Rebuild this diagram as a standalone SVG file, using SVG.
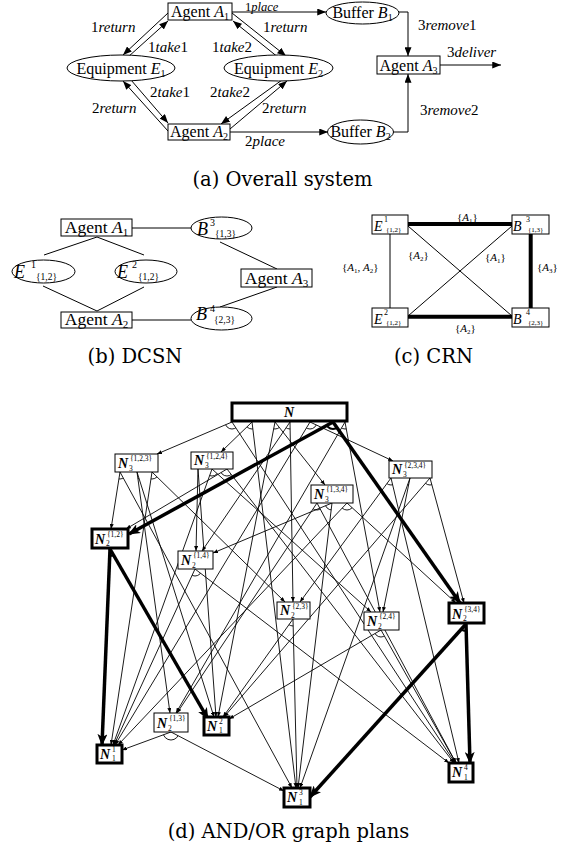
<svg xmlns="http://www.w3.org/2000/svg" width="570" height="848" viewBox="0 0 570 848">
<style>
  .t{font-family:"Liberation Serif","Times New Roman",serif;fill:#000}
  .i{font-style:italic}
  .cap{font-family:"DejaVu Serif","Liberation Serif",serif;font-size:19.5px;fill:#000}
  .ln{stroke:#000;stroke-width:1;fill:none}
  .la{stroke:#000;stroke-width:1;fill:none;marker-end:url(#ah)}
  .tl{stroke:#000;stroke-width:0.9;fill:none;marker-end:url(#as)}
  .th{stroke:#000;stroke-width:3.5;fill:none;marker-end:url(#at)}
  .bx{fill:#fff;stroke:#000;stroke-width:1}
  .bk{fill:#fff;stroke:#000;stroke-width:3}
  .arc{fill:none;stroke:#000;stroke-width:0.9}
  .arck{fill:none;stroke:#000;stroke-width:2}
  .nn{font-family:"Liberation Serif",serif;font-style:italic;font-weight:bold;font-size:14px}
  .ns{font-family:"Liberation Serif",serif;font-size:7.5px}
</style>
<defs>
  <marker id="ah" viewBox="0 0 10 8" refX="10" refY="4" markerWidth="9" markerHeight="7" markerUnits="userSpaceOnUse" orient="auto"><path d="M0,0L10,4L0,8z"/></marker>
  <marker id="as" viewBox="0 0 10 8" refX="10" refY="4" markerWidth="5" markerHeight="4" markerUnits="userSpaceOnUse" orient="auto"><path d="M0,0L10,4L0,8z"/></marker>
  <marker id="at" viewBox="0 0 12 10" refX="11" refY="5" markerWidth="12" markerHeight="10" markerUnits="userSpaceOnUse" orient="auto"><path d="M0,0L12,5L0,10L3,5z"/></marker>
  <!-- wedges used to clip the AND arcs -->
  <clipPath id="k1"><polygon points="232,422 157,454 455,763"/></clipPath>
  <clipPath id="k2"><polygon points="252,422 221,452 296,788"/></clipPath>
  <clipPath id="k3"><polygon points="275,422 325,485 218,717"/></clipPath>
  <clipPath id="k4"><polygon points="290,422 202,551 293,602"/></clipPath>
  <clipPath id="k5"><polygon points="310,422 393,461 115,745"/></clipPath>
  <clipPath id="k6"><polygon points="333,422 129,534 460,603"/></clipPath>
  <clipPath id="k7"><polygon points="345,422 176,713 380,612"/></clipPath>
  <clipPath id="k8"><polygon points="120,472 111,529 292,788"/></clipPath>
  <clipPath id="k9"><polygon points="137,472 170,713 214,717"/></clipPath>
  <clipPath id="k10"><polygon points="152,472 285,602 111,745"/></clipPath>
  <clipPath id="k11"><polygon points="198,469 196,551 216,717"/></clipPath>
  <clipPath id="k12"><polygon points="212,469 371,612 113,745"/></clipPath>
  <clipPath id="k13"><polygon points="227,469 126,529 454,763"/></clipPath>
  <clipPath id="k14"><polygon points="317,503 177,713 456,763"/></clipPath>
  <clipPath id="k15"><polygon points="332,503 213,553 298,788"/></clipPath>
  <clipPath id="k16"><polygon points="347,503 456,603 118,745"/></clipPath>
  <clipPath id="k17"><polygon points="391,478 300,602 459,763"/></clipPath>
  <clipPath id="k18"><polygon points="410,478 383,612 300,788"/></clipPath>
  <clipPath id="k19"><polygon points="430,478 464,603 224,717"/></clipPath>
  <clipPath id="k20"><polygon points="110,549 102,745 208,719"/></clipPath>
  <clipPath id="k21"><polygon points="171,732 122,750 284,791"/></clipPath>
  <clipPath id="k22"><polygon points="195,569 114,745 449,763"/></clipPath>
  <clipPath id="k23"><polygon points="293,619 223,717 297,788"/></clipPath>
  <clipPath id="k24"><polygon points="381,630 229,719 456,763"/></clipPath>
  <clipPath id="k25"><polygon points="466,624 470,763 310,797"/></clipPath>
</defs>
<rect width="570" height="848" fill="#fff"/>

<!-- ===== (a) overall system ===== -->
<g id="a-connectors">
  <path class="la" d="M232,12H326"/>
  <path class="la" d="M399,12H408V56"/>
  <path class="la" d="M440,65H501"/>
  <path class="la" d="M230,132H328"/>
  <path class="la" d="M393,132H408V74"/>
  <path class="la" d="M168,13L123,55"/>
  <path class="la" d="M128,57L168,21"/>
  <path class="la" d="M232,13L286,56"/>
  <path class="la" d="M279,58L233,21"/>
  <path class="la" d="M168,131L123,81"/>
  <path class="la" d="M131,80L168,123"/>
  <path class="la" d="M282,80L221,124"/>
  <path class="la" d="M230,129L287,81"/>
</g>
<g id="a-labels" class="t" font-size="15">
  <text x="245" y="11.3" font-size="12.5">1<tspan class="i">place</tspan></text>
  <text x="418" y="30">3<tspan class="i">remove</tspan>1</text>
  <text x="447" y="57">3<tspan class="i">deliver</tspan></text>
  <text x="245" y="146">2<tspan class="i">place</tspan></text>
  <text x="420" y="115">3<tspan class="i">remove</tspan>2</text>
  <text x="91" y="32">1<tspan class="i">return</tspan></text>
  <text x="148" y="52">1<tspan class="i">take</tspan>1</text>
  <text x="212" y="52">1<tspan class="i">take</tspan>2</text>
  <text x="263" y="32">1<tspan class="i">return</tspan></text>
  <text x="150" y="97">2<tspan class="i">take</tspan>1</text>
  <text x="210" y="97">2<tspan class="i">take</tspan>2</text>
  <text x="92" y="113">2<tspan class="i">return</tspan></text>
  <text x="262" y="113">2<tspan class="i">return</tspan></text>
</g>
<g id="a-agent1"><rect class="bx" x="168" y="3" width="64" height="17"/><text class="t" x="200" y="16.5" font-size="16" text-anchor="middle">Agent <tspan class="i">A</tspan><tspan font-size="10" dy="3">1</tspan></text></g>
<g id="a-agent2"><rect class="bx" x="168" y="124" width="62" height="16"/><text class="t" x="199" y="137" font-size="16" text-anchor="middle">Agent <tspan class="i">A</tspan><tspan font-size="10" dy="3">2</tspan></text></g>
<g id="a-agent3"><rect class="bx" x="377" y="56" width="63" height="18"/><text class="t" x="408.5" y="70.5" font-size="16" text-anchor="middle">Agent <tspan class="i">A</tspan><tspan font-size="10" dy="3">3</tspan></text></g>
<g id="a-equip1"><ellipse class="bx" cx="121" cy="68" rx="54" ry="13"/><text class="t" x="121" y="73.5" font-size="16" text-anchor="middle">Equipment <tspan class="i">E</tspan><tspan font-size="10" dy="3">1</tspan></text></g>
<g id="a-equip2"><ellipse class="bx" cx="278.5" cy="68" rx="54.5" ry="13"/><text class="t" x="278.5" y="73.5" font-size="16" text-anchor="middle">Equipment <tspan class="i">E</tspan><tspan font-size="10" dy="3">2</tspan></text></g>
<g id="a-buffer1"><ellipse class="bx" cx="362.5" cy="13" rx="36.5" ry="11"/><text class="t" x="362.5" y="17.5" font-size="16" text-anchor="middle">Buffer <tspan class="i">B</tspan><tspan font-size="10" dy="3">1</tspan></text></g>
<g id="a-buffer2"><ellipse class="bx" cx="360.5" cy="132" rx="33" ry="12"/><text class="t" x="360.5" y="137" font-size="16" text-anchor="middle">Buffer <tspan class="i">B</tspan><tspan font-size="10" dy="3">2</tspan></text></g>
<text class="cap" x="282.5" y="186" text-anchor="middle">(a) Overall system</text>

<!-- ===== (b) DCSN ===== -->
<g id="b-connectors">
  <path class="ln" d="M132,228H191"/>
  <path class="ln" d="M97,237L44,255"/>
  <path class="ln" d="M97,237L144,255"/>
  <path class="ln" d="M43,286L97,311"/>
  <path class="ln" d="M144,287L97,311"/>
  <path class="ln" d="M132,320H191"/>
  <path class="ln" d="M220,242L277,269"/>
  <path class="ln" d="M277,287L220,307"/>
</g>
<g id="b-agent1"><rect class="bx" x="61" y="219" width="71" height="17"/><text class="t" x="96.5" y="233" font-size="17.5" text-anchor="middle">Agent <tspan class="i">A</tspan><tspan font-size="11" dy="3">1</tspan></text></g>
<g id="b-agent2"><rect class="bx" x="61" y="312" width="71" height="16"/><text class="t" x="96.5" y="325" font-size="17.5" text-anchor="middle">Agent <tspan class="i">A</tspan><tspan font-size="11" dy="3">2</tspan></text></g>
<g id="b-agent3"><rect class="bx" x="241" y="269" width="71" height="18"/><text class="t" x="276.5" y="283.5" font-size="17.5" text-anchor="middle">Agent <tspan class="i">A</tspan><tspan font-size="11" dy="3">3</tspan></text></g>
<g id="b-e1"><ellipse class="bx" cx="43.5" cy="271.5" rx="31.5" ry="11.5"/><text class="t i" x="14" y="278" font-size="18">E</text><text class="t" x="31" y="268" font-size="10">1</text><text class="t" x="36" y="280" font-size="9.5">{1,2}</text></g>
<g id="b-e2"><ellipse class="bx" cx="146" cy="271.5" rx="31" ry="11.5"/><text class="t i" x="117" y="278" font-size="18">E</text><text class="t" x="132" y="268" font-size="10">2</text><text class="t" x="138" y="280" font-size="9.5">{1,2}</text></g>
<g id="b-b3"><ellipse class="bx" cx="221.5" cy="228" rx="30.5" ry="11"/><text class="t i" x="197" y="235" font-size="18">B</text><text class="t" x="210" y="226" font-size="10">3</text><text class="t" x="215" y="237" font-size="9.5">{1,3}</text></g>
<g id="b-b4"><ellipse class="bx" cx="221.5" cy="318.5" rx="30.5" ry="11.5"/><text class="t i" x="196" y="320" font-size="18">B</text><text class="t" x="210" y="312" font-size="10">4</text><text class="t" x="214" y="323" font-size="9.5">{2,3}</text></g>
<text class="cap" x="135" y="363" text-anchor="middle">(b) DCSN</text>

<!-- ===== (c) CRN ===== -->
<g id="c-connectors">
  <path class="ln" d="M390,234V308"/>
  <path class="ln" d="M408,226L512,316"/>
  <path class="ln" d="M408,316L512,226"/>
  <path d="M408,224H513" stroke="#000" stroke-width="4"/>
  <path d="M530.7,234V309" stroke="#000" stroke-width="4"/>
  <path d="M408,316.7H513" stroke="#000" stroke-width="4"/>
</g>
<g id="c-labels" class="t" font-size="11">
  <text x="457" y="221">{<tspan class="i">A</tspan><tspan font-size="7" dy="2">1</tspan><tspan dy="-2">}</tspan></text>
  <text x="408" y="259">{<tspan class="i">A</tspan><tspan font-size="7" dy="2">2</tspan><tspan dy="-2">}</tspan></text>
  <text x="485" y="261">{<tspan class="i">A</tspan><tspan font-size="7" dy="2">1</tspan><tspan dy="-2">}</tspan></text>
  <text x="342" y="271">{<tspan class="i">A</tspan><tspan font-size="7" dy="2">1</tspan><tspan dy="-2">, </tspan><tspan class="i">A</tspan><tspan font-size="7" dy="2">2</tspan><tspan dy="-2">}</tspan></text>
  <text x="537" y="271">{<tspan class="i">A</tspan><tspan font-size="7" dy="2">3</tspan><tspan dy="-2">}</tspan></text>
  <text x="455" y="332">{<tspan class="i">A</tspan><tspan font-size="7" dy="2">2</tspan><tspan dy="-2">}</tspan></text>
</g>
<g id="c-e1"><rect class="bx" x="372" y="215" width="36" height="19"/><text class="t i" x="374" y="231" font-size="14">E</text><text class="t" x="384" y="222" font-size="8">1</text><text class="t" x="386" y="232" font-size="7">{1,2}</text></g>
<g id="c-b3"><rect class="bx" x="512" y="215" width="37" height="19"/><text class="t i" x="513" y="231" font-size="14">B</text><text class="t" x="526" y="222" font-size="8">3</text><text class="t" x="528" y="232" font-size="7">{1,3}</text></g>
<g id="c-e2"><rect class="bx" x="372" y="308" width="36" height="19"/><text class="t i" x="374" y="324" font-size="14">E</text><text class="t" x="384" y="315" font-size="8">2</text><text class="t" x="386" y="325" font-size="7">{1,2}</text></g>
<g id="c-b4"><rect class="bx" x="512" y="308" width="37" height="19"/><text class="t i" x="513" y="324" font-size="14">B</text><text class="t" x="526" y="315" font-size="8">4</text><text class="t" x="528" y="325" font-size="7">{2,3}</text></g>
<text class="cap" x="433.5" y="363" text-anchor="middle">(c) CRN</text>

<!-- ===== (d) AND/OR graph ===== -->
<g id="d-connectors">
  <path class="tl" d="M232,422L157,454"/>
  <path class="tl" d="M232,422L455,763"/>
  <path class="tl" d="M252,422L221,452"/>
  <path class="tl" d="M252,422L296,788"/>
  <path class="tl" d="M275,422L325,485"/>
  <path class="tl" d="M275,422L218,717"/>
  <path class="tl" d="M290,422L202,551"/>
  <path class="tl" d="M290,422L293,602"/>
  <path class="tl" d="M310,422L393,461"/>
  <path class="tl" d="M310,422L115,745"/>
  <path class="tl" d="M345,422L176,713"/>
  <path class="tl" d="M345,422L380,612"/>
  <path class="tl" d="M120,472L111,529"/>
  <path class="tl" d="M120,472L292,788"/>
  <path class="tl" d="M137,472L170,713"/>
  <path class="tl" d="M137,472L214,717"/>
  <path class="tl" d="M152,472L285,602"/>
  <path class="tl" d="M152,472L111,745"/>
  <path class="tl" d="M198,469L196,551"/>
  <path class="tl" d="M198,469L216,717"/>
  <path class="tl" d="M212,469L371,612"/>
  <path class="tl" d="M212,469L113,745"/>
  <path class="tl" d="M227,469L126,529"/>
  <path class="tl" d="M227,469L454,763"/>
  <path class="tl" d="M317,503L177,713"/>
  <path class="tl" d="M317,503L456,763"/>
  <path class="tl" d="M332,503L213,553"/>
  <path class="tl" d="M332,503L298,788"/>
  <path class="tl" d="M347,503L456,603"/>
  <path class="tl" d="M347,503L118,745"/>
  <path class="tl" d="M391,478L300,602"/>
  <path class="tl" d="M391,478L459,763"/>
  <path class="tl" d="M410,478L383,612"/>
  <path class="tl" d="M410,478L300,788"/>
  <path class="tl" d="M430,478L464,603"/>
  <path class="tl" d="M430,478L224,717"/>
  <path class="tl" d="M171,732L122,750"/>
  <path class="tl" d="M171,732L284,791"/>
  <path class="tl" d="M195,569L114,745"/>
  <path class="tl" d="M195,569L449,763"/>
  <path class="tl" d="M293,619L223,717"/>
  <path class="tl" d="M293,619L297,788"/>
  <path class="tl" d="M381,630L229,719"/>
  <path class="tl" d="M381,630L456,763"/>
  <!-- AND arcs -->
  <circle class="arc" cx="232" cy="422" r="7" clip-path="url(#k1)"/>
  <circle class="arc" cx="252" cy="422" r="7" clip-path="url(#k2)"/>
  <circle class="arc" cx="275" cy="422" r="7" clip-path="url(#k3)"/>
  <circle class="arc" cx="290" cy="422" r="7" clip-path="url(#k4)"/>
  <circle class="arc" cx="310" cy="422" r="7" clip-path="url(#k5)"/>
  <circle class="arck" cx="333" cy="422" r="7" clip-path="url(#k6)"/>
  <circle class="arc" cx="345" cy="422" r="7" clip-path="url(#k7)"/>
  <circle class="arc" cx="120" cy="472" r="7" clip-path="url(#k8)"/>
  <circle class="arc" cx="137" cy="472" r="7" clip-path="url(#k9)"/>
  <circle class="arc" cx="152" cy="472" r="7" clip-path="url(#k10)"/>
  <circle class="arc" cx="198" cy="469" r="7" clip-path="url(#k11)"/>
  <circle class="arc" cx="212" cy="469" r="7" clip-path="url(#k12)"/>
  <circle class="arc" cx="227" cy="469" r="7" clip-path="url(#k13)"/>
  <circle class="arc" cx="317" cy="503" r="7" clip-path="url(#k14)"/>
  <circle class="arc" cx="332" cy="503" r="7" clip-path="url(#k15)"/>
  <circle class="arc" cx="347" cy="503" r="7" clip-path="url(#k16)"/>
  <circle class="arc" cx="391" cy="478" r="7" clip-path="url(#k17)"/>
  <circle class="arc" cx="410" cy="478" r="7" clip-path="url(#k18)"/>
  <circle class="arc" cx="430" cy="478" r="7" clip-path="url(#k19)"/>
  <circle class="arck" cx="110" cy="549" r="7" clip-path="url(#k20)"/>
  <circle class="arc" cx="171" cy="732" r="8" clip-path="url(#k21)"/>
  <circle class="arc" cx="195" cy="569" r="7" clip-path="url(#k22)"/>
  <circle class="arc" cx="293" cy="619" r="7" clip-path="url(#k23)"/>
  <circle class="arc" cx="381" cy="630" r="7" clip-path="url(#k24)"/>
  <circle class="arck" cx="466" cy="624" r="7" clip-path="url(#k25)"/>
  <!-- selected plan -->
  <path class="th" d="M333,422L129,534"/>
  <path class="th" d="M333,422L460,603"/>
  <path class="th" d="M110,549L102,745"/>
  <path class="th" d="M110,549L208,719"/>
  <path class="th" d="M466,624L470,763"/>
  <path class="th" d="M466,624L310,797"/>
</g>

<g id="d-n"><rect class="bk" x="232" y="403" width="115" height="18"/><text class="nn" x="289" y="417" font-size="13" text-anchor="middle">N</text></g>
<g id="d-n3-123"><rect class="bx" x="115" y="454" width="43" height="18"/><text class="nn" x="118" y="468">N</text><text class="ns" x="130" y="461">{1,2,3}</text><text class="ns" x="129" y="471">3</text></g>
<g id="d-n3-124"><rect class="bx" x="191" y="452" width="42" height="17"/><text class="nn" x="194" y="465">N</text><text class="ns" x="206" y="459">{1,2,4}</text><text class="ns" x="205" y="468">3</text></g>
<g id="d-n3-134"><rect class="bx" x="311" y="485" width="42" height="18"/><text class="nn" x="314" y="499">N</text><text class="ns" x="326" y="492">{1,3,4}</text><text class="ns" x="325" y="502">3</text></g>
<g id="d-n3-234"><rect class="bx" x="389" y="461" width="43" height="17"/><text class="nn" x="392" y="474">N</text><text class="ns" x="404" y="468">{2,3,4}</text><text class="ns" x="403" y="477">3</text></g>
<g id="d-n2-12"><rect class="bk" x="92" y="529" width="36" height="19"/><text class="nn" x="95" y="544">N</text><text class="ns" x="107" y="537">{1,2}</text><text class="ns" x="106" y="546">2</text></g>
<g id="d-n2-14"><rect class="bx" x="178" y="551" width="35" height="18"/><text class="nn" x="181" y="565">N</text><text class="ns" x="193" y="558">{1,4}</text><text class="ns" x="192" y="568">2</text></g>
<g id="d-n2-23"><rect class="bx" x="277" y="602" width="33" height="17"/><text class="nn" x="280" y="615">N</text><text class="ns" x="292" y="609">{2,3}</text><text class="ns" x="291" y="618">2</text></g>
<g id="d-n2-24"><rect class="bx" x="364" y="612" width="35" height="18"/><text class="nn" x="367" y="626">N</text><text class="ns" x="379" y="619">{2,4}</text><text class="ns" x="378" y="629">2</text></g>
<g id="d-n2-34"><rect class="bk" x="449" y="603" width="35" height="20"/><text class="nn" x="452" y="619">N</text><text class="ns" x="464" y="612">{3,4}</text><text class="ns" x="463" y="621">2</text></g>
<g id="d-n2-13"><rect class="bx" x="154" y="713" width="34" height="19"/><text class="nn" x="157" y="728">N</text><text class="ns" x="169" y="721">{1,3}</text><text class="ns" x="168" y="731">2</text></g>
<g id="d-n1-1"><rect class="bk" x="97" y="745" width="25" height="18"/><text class="nn" x="100" y="759">N</text><text class="ns" x="112" y="752">1</text><text class="ns" x="112" y="761">1</text></g>
<g id="d-n1-2"><rect class="bk" x="204" y="717" width="25" height="18"/><text class="nn" x="207" y="731">N</text><text class="ns" x="219" y="724">2</text><text class="ns" x="219" y="733">1</text></g>
<g id="d-n1-3"><rect class="bk" x="284" y="788" width="26" height="19"/><text class="nn" x="287" y="802">N</text><text class="ns" x="299" y="795">3</text><text class="ns" x="299" y="805">1</text></g>
<g id="d-n1-4"><rect class="bk" x="449" y="763" width="24" height="19"/><text class="nn" x="452" y="777">N</text><text class="ns" x="464" y="770">4</text><text class="ns" x="464" y="780">1</text></g>
<text class="cap" x="288.5" y="838" text-anchor="middle">(d) AND/OR graph plans</text>
</svg>
